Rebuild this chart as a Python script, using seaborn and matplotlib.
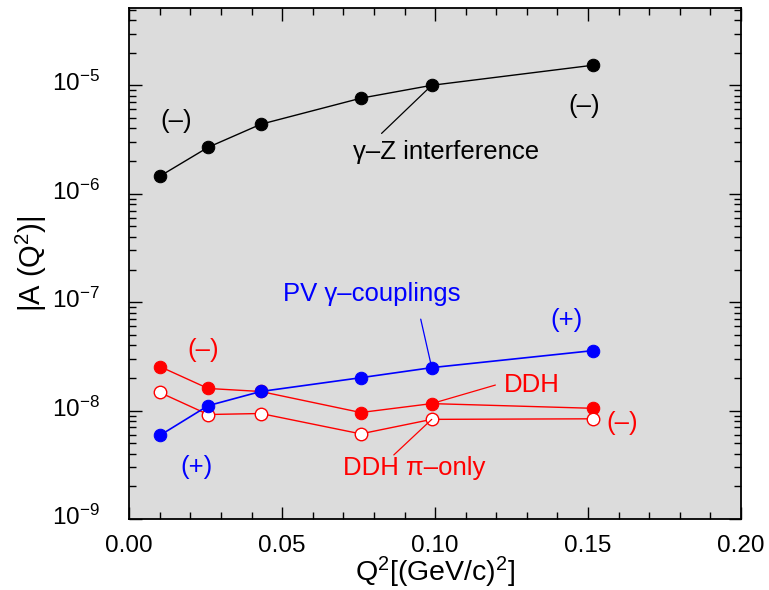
import numpy as np
import pandas as pd
import seaborn as sns
import matplotlib.pyplot as plt
import matplotlib.ticker as mticker
import matplotlib.transforms as mtransforms

# Q^2 values (GeV/c)^2
q2 = [0.010, 0.0258, 0.043, 0.0757, 0.0989, 0.1515]

# |A(Q^2)| for each contribution
gammaZ = [1.45e-6, 2.68e-6, 4.37e-6, 7.6e-6, 1.0e-5, 1.53e-5]
pv_gamma = [5.9e-9, 1.11e-8, 1.5e-8, 2.01e-8, 2.49e-8, 3.57e-8]
ddh = [2.55e-8, 1.6e-8, 1.5e-8, 9.6e-9, 1.16e-8, 1.05e-8]
ddh_pi = [1.47e-8, 9.2e-9, 9.4e-9, 6.1e-9, 8.3e-9, 8.4e-9]

yticks = [1e-9, 1e-8, 1e-7, 1e-6, 1e-5]
ytick_labels = ['10$^{-9}$', '10$^{-8}$', '10$^{-7}$', '10$^{-6}$', '10$^{-5}$']

sns.set_style("ticks")
plt.rcParams['font.family'] = ['Liberation Sans', 'DejaVu Sans']
plt.rcParams['mathtext.fontset'] = 'custom'
plt.rcParams['mathtext.rm'] = 'Liberation Sans'
plt.rcParams['mathtext.it'] = 'Liberation Sans:italic'

fig = plt.figure(figsize=(7.69, 5.9), dpi=100)
ax = fig.add_axes([0.168, 0.1203, 0.7956, 0.8661])
ax.set_facecolor('#dcdcdc')

df = pd.DataFrame({'q2': q2, 'gz': gammaZ, 'pv': pv_gamma, 'ddh': ddh, 'pi': ddh_pi})

msz = 9
sns.lineplot(data=df, x='q2', y='gz', ax=ax, color='black', lw=1, marker='o',
             markersize=msz, markeredgecolor='black')
sns.lineplot(data=df, x='q2', y='ddh', ax=ax, color='red', lw=1, marker='o',
             markersize=msz, markeredgecolor='red')
sns.lineplot(data=df, x='q2', y='pi', ax=ax, color='red', lw=1, marker='o',
             markersize=msz, markerfacecolor='white', markeredgecolor='red', markeredgewidth=1)
sns.lineplot(data=df, x='q2', y='pv', ax=ax, color='blue', lw=1.2, marker='o',
             markersize=msz, markeredgecolor='blue')

ax.set_yscale('log')
ax.set_xlim(0, 0.2)
ax.set_ylim(1e-9, 5.16e-5)
ax.set_xticks([0, 0.05, 0.10, 0.15, 0.20])
ax.xaxis.set_major_formatter(mticker.FormatStrFormatter('%.2f'))
ax.xaxis.set_minor_locator(mticker.MultipleLocator(0.01))
ax.set_yticks(yticks)
ax.set_yticklabels(ytick_labels)
ax.yaxis.set_minor_locator(mticker.LogLocator(base=10, subs=np.arange(2, 10), numticks=20))
ax.yaxis.set_minor_formatter(mticker.NullFormatter())

ax.tick_params(which='both', direction='in', top=True, right=True, labelsize=17.5,
               colors='black')
ax.tick_params(axis='x', pad=11.5)
ax.tick_params(axis='y', pad=21)
ax.tick_params(which='major', length=9, width=1)
ax.tick_params(which='minor', length=5, width=1)
for s in ax.spines.values():
    s.set_linewidth(1.3)
    s.set_color('black')

# nudge y tick labels up so the "10" sits on the tick
shift = mtransforms.ScaledTranslation(0, 4 / 100, fig.dpi_scale_trans)
for lab in ax.get_yticklabels():
    lab.set_transform(lab.get_transform() + shift)

ax.set_xlabel('Q$^2$[(GeV/c)$^2$]', fontsize=20.5, labelpad=-1.5, color='black')
ax.set_ylabel('|A (Q$^2$)|', fontsize=21, labelpad=2, color='black')

fs = 18.5
line = dict(arrowstyle='-', lw=0.9, shrinkA=0, shrinkB=0)

# gamma-Z labels
ax.annotate('', xy=(q2[4], gammaZ[4]), xytext=(0.0825, 3.6e-6), arrowprops=dict(line, color='black'))
ax.text(0.1035, 2.45e-6, 'γ–Z interference', fontsize=fs, ha='center', va='center', color='black')
ax.text(0.0153, 4.66e-6, '(–)', fontsize=fs, ha='center', va='center', color='black')
ax.text(0.1488, 6.4e-6, '(–)', fontsize=fs, ha='center', va='center', color='black')

# PV gamma couplings
ax.annotate('', xy=(q2[4], pv_gamma[4]), xytext=(0.0953, 6.97e-8), arrowprops=dict(line, color='blue'))
ax.text(0.0793, 1.2e-7, 'PV γ–couplings', fontsize=fs, ha='center', va='center', color='blue')
ax.text(0.1429, 6.9e-8, '(+)', fontsize=fs, ha='center', va='center', color='blue')
ax.text(0.0219, 3.0e-9, '(+)', fontsize=fs, ha='center', va='center', color='blue')

# DDH
ax.annotate('', xy=(q2[4], ddh[4]), xytext=(0.1197, 1.72e-8), arrowprops=dict(line, color='red'))
ax.text(0.1315, 1.72e-8, 'DDH', fontsize=fs, ha='center', va='center', color='red')
ax.annotate('', xy=(q2[4], ddh_pi[4]), xytext=(0.0865, 3.9e-9), arrowprops=dict(line, color='red'))
ax.text(0.0933, 2.95e-9, 'DDH π–only', fontsize=fs, ha='center', va='center', color='red')
ax.text(0.0241, 3.6e-8, '(–)', fontsize=fs, ha='center', va='center', color='red')
ax.text(0.1612, 7.7e-9, '(–)', fontsize=fs, ha='center', va='center', color='red')

fig.savefig('out.png', dpi=100)
